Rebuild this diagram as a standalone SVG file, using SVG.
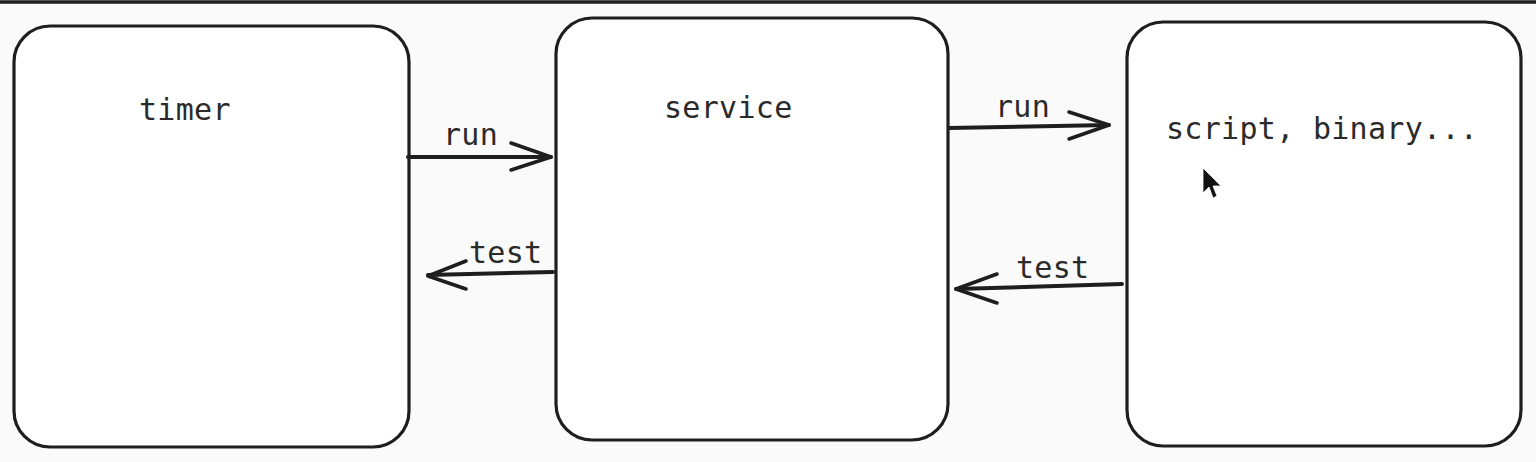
<svg xmlns="http://www.w3.org/2000/svg" width="1536" height="462" viewBox="0 0 1536 462">
<style>
.box{fill:#ffffff;stroke:#1e1e1e;stroke-width:3.2}
.lbl{font-family:"DejaVu Sans Mono","Liberation Mono",monospace;font-size:30px;letter-spacing:0.3px;fill:#2a2a2a}
.ln{fill:none;stroke:#1e1e1e;stroke-width:4;stroke-linecap:round;stroke-linejoin:round}
.hd{fill:none;stroke:#1e1e1e;stroke-width:3.5;stroke-linecap:round;stroke-linejoin:round}
</style>
<rect x="0" y="0" width="1536" height="462" fill="#fafafa"/>
<line x1="0" y1="2" x2="1536" y2="2" stroke="#1e1e1e" stroke-width="3.5"/>
<g id="timer">
<rect class="box" x="14" y="26" width="395" height="421" rx="36"/>
<text class="lbl" x="139" y="120">timer</text>
</g>
<g id="service">
<rect class="box" x="556" y="18" width="392" height="422" rx="36"/>
<text class="lbl" x="664" y="118">service</text>
</g>
<g id="script">
<rect class="box" x="1127" y="22" width="394" height="424" rx="36"/>
<text class="lbl" x="1166" y="139">script, binary...</text>
<path d="M1203,168 L1203,193 L1209,187 L1213,198 L1217,196 L1213,186 L1221,186 Z" fill="#111" stroke="#fff" stroke-width="0.8"/>
</g>
<g id="connectors">
<line class="ln" x1="408" y1="157" x2="551" y2="157"/>
<polyline class="hd" points="511,143 551,157 511,170"/>
<text class="lbl" x="443" y="145">run</text>
<line class="ln" x1="949" y1="128" x2="1109" y2="125"/>
<polyline class="hd" points="1069,112 1109,125 1069,139"/>
<text class="lbl" x="995" y="117">run</text>
<line class="ln" x1="553" y1="272" x2="428" y2="275"/>
<polyline class="hd" points="466,261 428,276 466,289"/>
<text class="lbl" x="469" y="263">test</text>
<line class="ln" x1="1122" y1="284" x2="956" y2="289"/>
<polyline class="hd" points="997,274 956,289 997,303"/>
<text class="lbl" x="1016" y="278">test</text>
</g>
</svg>
